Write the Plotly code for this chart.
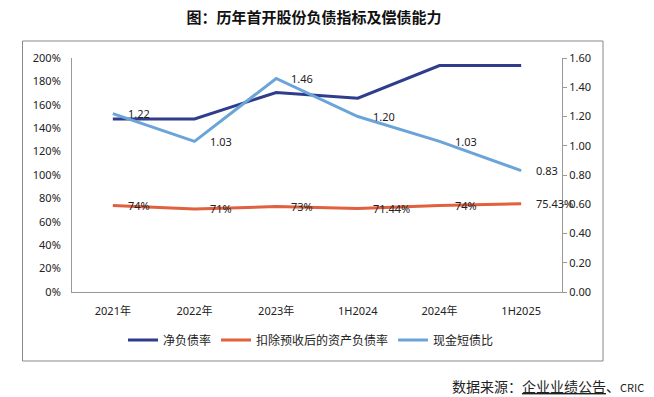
import plotly.graph_objects as go

categories = ["2021年", "2022年", "2023年", "1H2024", "2024年", "1H2025"]
net_debt_ratio = [1.479, 1.479, 1.705, 1.656, 1.935, 1.935]
asset_liab_ratio = [0.74, 0.71, 0.73, 0.7144, 0.74, 0.7543]
asset_liab_labels = ["74%", "71%", "73%", "71.44%", "74%", "75.43%"]
cash_short_debt = [1.22, 1.03, 1.46, 1.20, 1.03, 0.83]
cash_labels = ["1.22", "1.03", "1.46", "1.20", "1.03", "0.83"]

series_names = ["净负债率", "扣除预收后的资产负债率", "现金短债比"]
colors = ["#2F3D8C", "#E0603F", "#6BA4D8"]

FONT = "Noto Sans, Noto Sans CJK SC, sans-serif"
CJK = "Noto Sans CJK SC, sans-serif"

W, H = 654, 397
L, R, T, B = 72, 92, 58, 105
pw, ph = W - L - R, H - T - B

def px_x(p):
    return (p - L) / pw

def px_y(p):
    return (H - B - p) / ph

fig = go.Figure()
fig.add_trace(go.Scatter(x=categories, y=net_debt_ratio, name=series_names[0], mode="lines",
                         line=dict(color=colors[0], width=3), yaxis="y", hoverinfo="skip"))
fig.add_trace(go.Scatter(x=categories, y=asset_liab_ratio, name=series_names[1], mode="lines",
                         line=dict(color=colors[1], width=3), yaxis="y", hoverinfo="skip"))
fig.add_trace(go.Scatter(x=categories, y=cash_short_debt, name=series_names[2], mode="lines",
                         line=dict(color=colors[2], width=3), yaxis="y2", hoverinfo="skip"))

annotations = []
for c, v, t in zip(categories, asset_liab_ratio, asset_liab_labels):
    annotations.append(dict(x=c, y=v, xref="x", yref="y", text=t, showarrow=False,
                            xanchor="left", yanchor="middle", xshift=13,
                            font=dict(family=FONT, size=11, color="#222")))
for c, v, t in zip(categories, cash_short_debt, cash_labels):
    annotations.append(dict(x=c, y=v, xref="x", yref="y2", text=t, showarrow=False,
                            xanchor="left", yanchor="middle", xshift=13,
                            font=dict(family=FONT, size=11, color="#222")))

annotations.append(dict(x=px_x(646), y=px_y(386), xref="paper", yref="paper",
                        text="数据来源：<u>企业业绩公告</u>、<span style='font-size:11px'>CRIC</span>",
                        showarrow=False, xanchor="right", yanchor="middle",
                        font=dict(family=CJK, size=14, color="#222")))

fig.update_layout(
    width=W, height=H,
    margin=dict(l=L, r=R, t=T, b=B),
    paper_bgcolor="white", plot_bgcolor="white",
    title=dict(text="<b>图：历年首开股份负债指标及偿债能力</b>", x=314 / W, xanchor="center",
               y=1 - 18 / H, yanchor="middle",
               font=dict(family=CJK, size=15, color="#111")),
    xaxis=dict(type="category", range=[-0.5, 5.5], showgrid=False, zeroline=False,
               showline=True, linecolor="#999", linewidth=1, ticks="",
               ticklabelstandoff=9,
               tickfont=dict(family=FONT, size=11, color="#222")),
    yaxis=dict(range=[0, 2.0], dtick=0.2, tickformat=".0%", showgrid=False, zeroline=False,
               showline=True, linecolor="#999", linewidth=1, ticks="",
               ticklabelstandoff=8,
               tickfont=dict(family=FONT, size=11, color="#222")),
    yaxis2=dict(range=[0, 1.6], dtick=0.2, tickformat=".2f", overlaying="y", side="right",
                showgrid=False, zeroline=False, showline=True, linecolor="#999", linewidth=1,
                ticks="outside", ticklen=4, tickcolor="#999",
                tickfont=dict(family=FONT, size=11, color="#222")),
    legend=dict(orientation="h", x=px_x(311), xanchor="center", y=px_y(340), yanchor="middle",
                font=dict(family=CJK, size=12, color="#222"), bgcolor="rgba(0,0,0,0)"),
    annotations=annotations,
    shapes=[dict(type="rect", xref="paper", yref="paper",
                 x0=px_x(22.5), x1=px_x(603), y0=px_y(361), y1=px_y(41),
                 line=dict(color="#888", width=1), layer="below")],
    showlegend=True,
)

fig.write_html("out.html", config={"displayModeBar": False},
               post_script="document.body.style.margin='0';document.body.style.overflow='hidden';")
